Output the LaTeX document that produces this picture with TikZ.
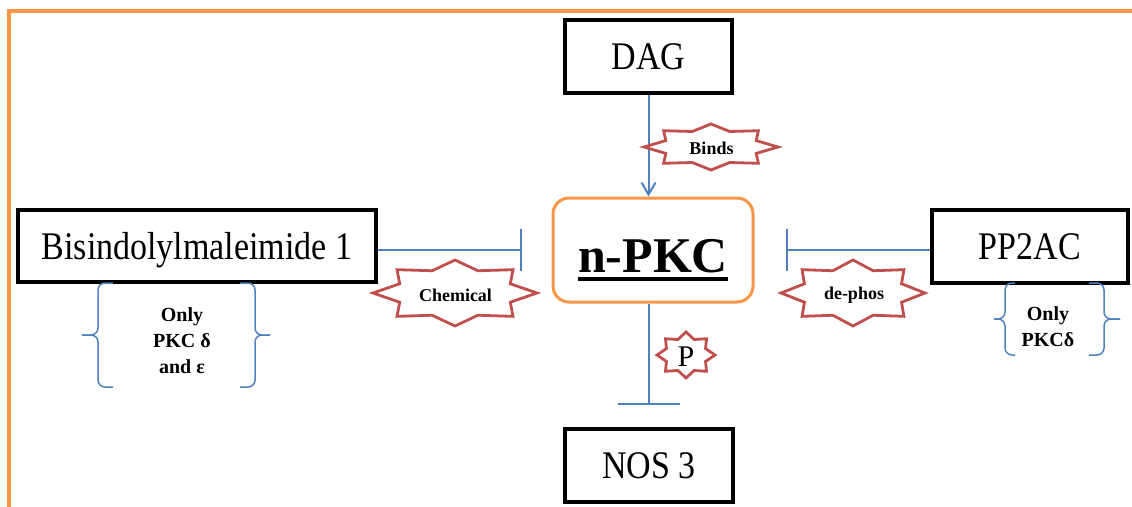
\documentclass[tikz,border=0pt]{standalone}
\usepackage{graphicx}
\usepackage{fontspec}
\setmainfont{Liberation Serif}
\usetikzlibrary{arrows.meta,calc}

\definecolor{frameorange}{HTML}{F79646}
\definecolor{linkblue}{HTML}{4F81BD}
\definecolor{starred}{HTML}{C0504D}

% eight-pointed star, stretched to half-widths #2 and #3 (in pt), round coordinate #1
\newcommand\octstar[3]{%
  \draw[starline] ($(#1)+(0:#2pt and #3pt)$)
    \foreach \k [evaluate=\k as \f using {ifthenelse(mod(\k,2)==0,1,0.73)}] in {1,...,15}
      { -- ($(#1)+(\k*22.5:\f*#2pt and \f*#3pt)$) } -- cycle;}

% curly bracket: ends at x=#1, spine at x=#2, point at x=#3, from y=#4 to y=#5
\newcommand\sidebrace[5]{%
  \draw[bracket] (#1,#4) -- (#2,#4) -- (#2,{(#4+#5)/2}) -- (#3,{(#4+#5)/2});
  \draw[bracket] (#1,#5) -- (#2,#5) -- (#2,{(#4+#5)/2}) -- (#3,{(#4+#5)/2});}

% bold word with a heavy underline
\newcommand\heavyul[1]{\vtop{\hbox{#1}\kern5pt\hrule height 4pt}}
% box lettering, a little taller than wide
\newcommand\tall[1]{\scalebox{1}[1.15]{#1}}

\tikzset{
  box/.style={draw=black, line width=3.2pt, fill=white, inner sep=0pt,
    font=\fontsize{34}{40}\selectfont, text height=26pt, text depth=0pt},
  core/.style={draw=frameorange, line width=3pt, rounded corners=16pt, fill=white,
    inner sep=0pt, minimum width=200pt, minimum height=104pt,
    font=\fontsize{50}{56}\selectfont\bfseries, text height=53pt, text depth=9pt},
  link/.style={draw=linkblue, line width=2pt},
  activates/.style={link, -{Straight Barb[length=12pt,width=14pt]}},
  inhibits/.style={link, -{Bar[width=#1]}},
  starline/.style={draw=starred, line width=2.8pt, fill=white, line join=miter},
  starlabel/.style={font=\fontsize{18}{20}\selectfont\bfseries, inner sep=0pt},
  bracket/.style={draw=linkblue, line width=1.5pt, rounded corners=7pt},
  notetext/.style={font=\fontsize{20}{26}\selectfont\bfseries, align=center, inner sep=0pt},
}

\begin{document}
\begin{tikzpicture}[x=1pt, y=-1pt]
\useasboundingbox (0,0) rectangle (1132,506);

% page frame, running off the right and bottom edges
\begin{scope}
  \clip (0,0) rectangle (1132,506);
  \draw[frameorange, line width=3.5pt] (9,11) rectangle (1150,530);
\end{scope}

% boxes
\node[box, minimum width=167pt, minimum height=73pt] (dag) at (648.5,56.5) {\tall{DAG}};
\node[box, minimum width=358pt, minimum height=72pt] (bis) at (197,246) {\tall{Bisindolylmaleimide 1}};
\node[box, minimum width=196pt, minimum height=73pt] (pp2ac) at (1030,246.5) {\tall{PP2AC}};
\node[box, minimum width=168pt, minimum height=73pt] (nos) at (649,465.5) {\tall{NOS 3}};
\node[core] (npkc) at (653,250) {\heavyul{n-PKC}};

% connectors
\draw[activates] (dag.south) -- (dag.south |- npkc.north);
\draw[inhibits=42pt, shorten >=30pt] (bis.east |- npkc.west) -- (npkc.west);
\draw[inhibits=42pt, shorten >=31pt] (pp2ac.west |- npkc.east) -- (npkc.east);
\draw[inhibits=62pt, shorten >=22pt] (npkc.south -| nos.north) -- (nos.north);

% star labels
\coordinate (bindsc) at (711,147);
\coordinate (chemc) at (455,293);
\coordinate (dephosc) at (853,293);
\coordinate (pc) at (686,355);
\octstar{bindsc}{67}{23}
\octstar{chemc}{82}{33}
\octstar{dephosc}{72}{33}
\octstar{pc}{29}{23}
\node[starlabel] (binds) at (711.5,148) {Binds};
\node[starlabel] (chem) at (455.5,295) {Chemical};
\node[starlabel] (dephos) at (854,295) {de-phos};
\node[font=\fontsize{30}{32}\selectfont, inner sep=0pt] (pmark) at (686,357) {P};

% bracketed notes
\sidebrace{113}{98}{82}{283}{387}
\sidebrace{240}{255}{270}{283}{387}
\node[notetext] (bisnote) at (182,341) {Only\\PKC δ\\and ε};
\sidebrace{1015}{1005}{994}{283}{355}
\sidebrace{1089}{1104}{1120}{283}{355}
\node[notetext] (ppnote) at (1048,327) {Only\\PKCδ};
\end{tikzpicture}
\end{document}
